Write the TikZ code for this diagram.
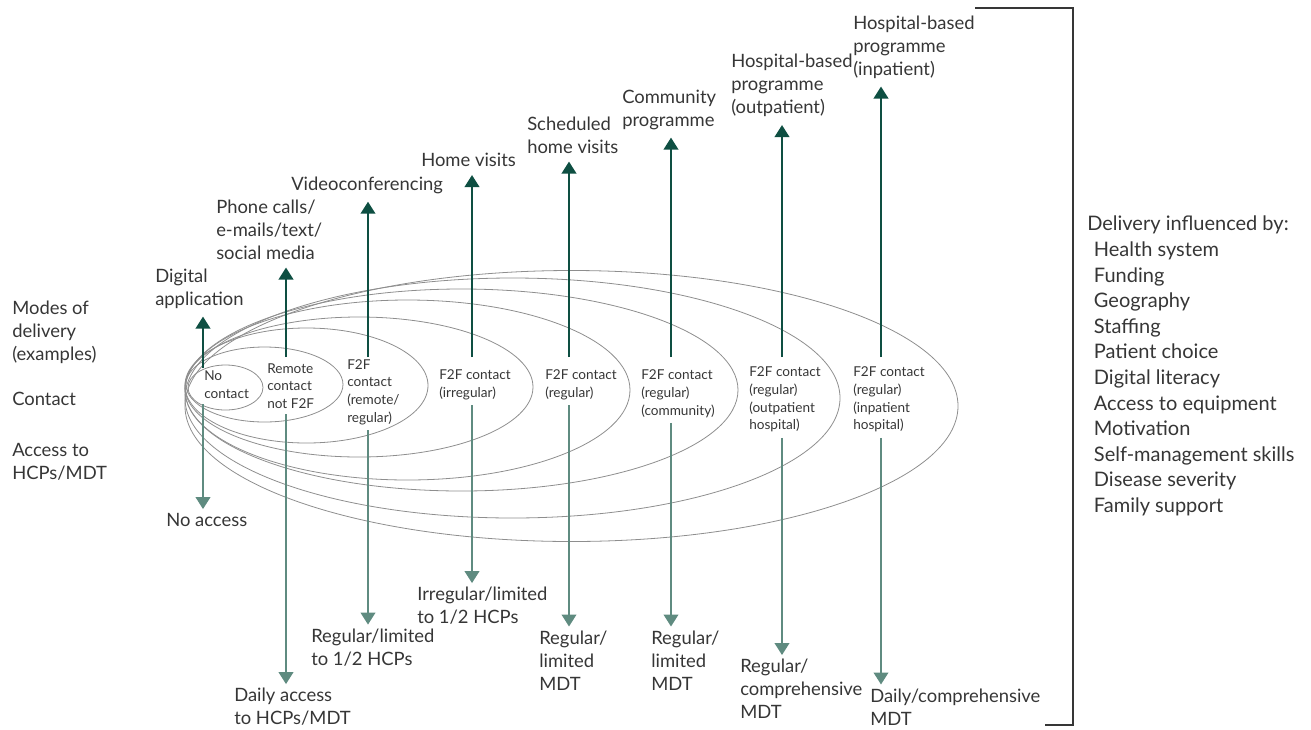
\documentclass[tikz,border=0pt]{standalone}
\usepackage{fontspec}
\setmainfont{Lato}
\usetikzlibrary{arrows.meta}

\definecolor{modegreen}{HTML}{0E4F42}
\definecolor{accessgreen}{HTML}{5F8B80}
\definecolor{ringgrey}{HTML}{8E8E8E}
\definecolor{txtgrey}{HTML}{363636}

\newcommand{\bigfont}{\fontsize{13.8}{17.2}\selectfont}
\newcommand{\smallfont}{\fontsize{10.2}{13.3}\selectfont}
\newcommand{\listfont}{\fontsize{15}{19.2}\selectfont}

\tikzset{
  lbl/.style = {anchor = west, align = left, inner sep = 0pt, text = txtgrey, font = \bigfont},
  contact/.style = {anchor = west, align = left, inner sep = 0pt, text = txtgrey, font = \smallfont},
  ring/.style = {draw = ringgrey, line width = 0.6pt},
  modearrow/.style = {draw = modegreen, line width = 1.4pt, -{Triangle[width = 11pt, length = 9pt]}, shorten >= 6pt},
  accessarrow/.style = {draw = accessgreen, line width = 1.4pt, -{Triangle[width = 11pt, length = 9pt]}, shorten <= 4pt, shorten >= 3pt}
}

\begin{document}
\begin{tikzpicture}[x = 0.75pt, y = -0.75pt]
\useasboundingbox (0,0) rectangle (1311,729);

% rings
\draw [ring] (225.5,387.5) ellipse [x radius = 37.5, y radius = 22.5];
\draw [ring] (264.5,384.5) ellipse [x radius = 78.5, y radius = 37.5];
\draw [ring] (306.5,385.5) ellipse [x radius = 121.5, y radius = 57.5];
\draw [ring] (359,387) ellipse [x radius = 174, y radius = 70];
\draw [ring] (407.5,390) ellipse [x radius = 222.5, y radius = 90];
\draw [ring] (461.5,390) ellipse [x radius = 276.5, y radius = 101];
\draw [ring] (512.5,398) ellipse [x radius = 327.5, y radius = 120];
\draw [ring] (571.5,406) ellipse [x radius = 386.5, y radius = 135.5];

% row titles
\node [lbl] (rmode) at (12,332) {Modes of\\delivery\\(examples)};
\node [lbl] (rcont) at (12,399) {Contact};
\node [lbl] (racc) at (12,462) {Access to\\HCPs/MDT};

% contact
\node [contact] (c0) at (204,385) {No\\contact};
\node [contact] (c1) at (267,386) {Remote\\contact\\not F2F};
\node [contact] (c2) at (347,392) {F2F\\contact\\(remote/\\regular)};
\node [contact] (c3) at (439,384.5) {F2F contact\\(irregular)};
\node [contact] (c4) at (545,384.5) {F2F contact\\(regular)};
\node [contact] (c5) at (641,393.5) {F2F contact\\(regular)\\(community)};
\node [contact] (c6) at (749,399.5) {F2F contact\\(regular)\\(outpatient\\hospital)};
\node [contact] (c7) at (853,399.5) {F2F contact\\(regular)\\(inpatient\\hospital)};

% where the arrows start
\coordinate (k0) at (203,368);
\coordinate (k1) at (286,357);
\coordinate (k2) at (368,357);
\coordinate (k3) at (472,357);
\coordinate (k4) at (569,357);
\coordinate (k5) at (671,357);
\coordinate (k6) at (782,357);
\coordinate (k7) at (881,357);

% modes of delivery
\node [lbl] (m0) at (155,288.5) {Digital\\application};
\node [lbl] (m1) at (216,229.5) {Phone calls/\\e-mails/text/\\social media};
\node [lbl] (m2) at (291,185) {Videoconferencing};
\node [lbl] (m3) at (421,160) {Home visits};
\node [lbl] (m4) at (527,135) {Scheduled\\home visits};
\node [lbl] (m5) at (622,109.5) {Community\\programme};
\node [lbl] (m6) at (731,85.5) {Hospital-based\\programme\\(outpatient)};
\node [lbl] (m7) at (853,47) {Hospital-based\\programme\\(inpatient)};

% access to HCPs/MDT
\node [lbl] (a0) at (166,520) {No access};
\node [lbl] (a1) at (234,707) {Daily access\\to HCPs/MDT};
\node [lbl] (a2) at (311,647.5) {Regular/limited\\to 1/2 HCPs};
\node [lbl] (a3) at (417,606) {Irregular/limited\\to 1/2 HCPs};
\node [lbl] (a4) at (539,660.5) {Regular/\\limited\\MDT};
\node [lbl] (a5) at (651,660.5) {Regular/\\limited\\MDT};
\node [lbl] (a6) at (740,689) {Regular/\\comprehensive\\MDT};
\node [lbl] (a7) at (870,707) {Daily/comprehensive\\MDT};

% influences
\node [lbl, font = \listfont] (infl) at (1087,366) {Delivery influenced by:\\
\hspace*{5pt}Health system\\
\hspace*{5pt}Funding\\
\hspace*{5pt}Geography\\
\hspace*{5pt}Staffing\\
\hspace*{5pt}Patient choice\\
\hspace*{5pt}Digital literacy\\
\hspace*{5pt}Access to equipment\\
\hspace*{5pt}Motivation\\
\hspace*{5pt}Self-management skills\\
\hspace*{5pt}Disease severity\\
\hspace*{5pt}Family support};

\draw [line width = 0.8pt, draw = txtgrey] (975,8) -- (1073,8) -- (1073,725) -- (1045,725);

% arrows
\draw [modearrow] (k0) -- (m0.south -| k0);
\draw [modearrow] (k1) -- (m1.south -| k1);
\draw [modearrow] (k2) -- (m2.south -| k2);
\draw [modearrow] (k3) -- (m3.south -| k3);
\draw [modearrow] (k4) -- (m4.south -| k4);
\draw [modearrow] (k5) -- (m5.south -| k5);
\draw [modearrow] (k6) -- (m6.south -| k6);
\draw [modearrow] (k7) -- (m7.south -| k7);

\draw [accessarrow] (c0.south -| k0) -- (a0.north -| k0);
\draw [accessarrow] (c1.south -| k1) -- (a1.north -| k1);
\draw [accessarrow] (c2.south -| k2) -- (a2.north -| k2);
\draw [accessarrow] (c3.south -| k3) -- (a3.north -| k3);
\draw [accessarrow] (c4.south -| k4) -- (a4.north -| k4);
\draw [accessarrow] (c5.south -| k5) -- (a5.north -| k5);
\draw [accessarrow] (c6.south -| k6) -- (a6.north -| k6);
\draw [accessarrow] (c7.south -| k7) -- (a7.north -| k7);
\end{tikzpicture}
\end{document}
